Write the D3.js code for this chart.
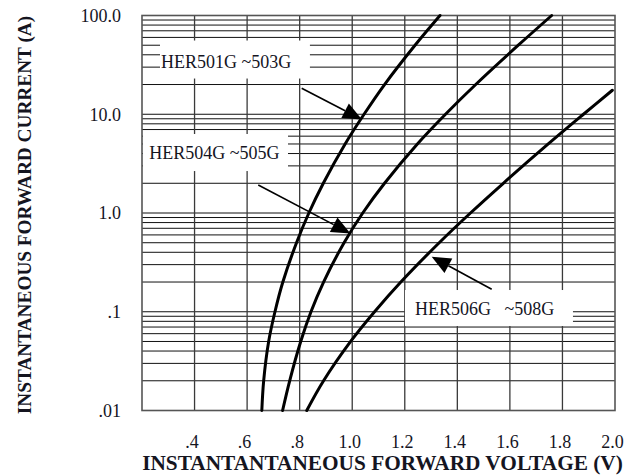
<!DOCTYPE html>
<html>
<head>
<meta charset="utf-8">
<script src="https://cdn.jsdelivr.net/npm/d3@7"></script>
<style>
  html, body { margin: 0; padding: 0; background: #fff; }
  svg { display: block; }
  text { font-family: "Liberation Serif", "Times New Roman", serif; fill: #15151f; }
</style>
</head>
<body>
<svg id="chart" width="635" height="475"></svg>
<script>
// Forward voltage vs forward current, HER501G ... HER508G families
const voltTicks = [0.4, 0.6, 0.8, 1.0, 1.2, 1.4, 1.6, 1.8, 2.0];
const voltTickLabels = [".4", ".6", ".8", "1.0", "1.2", "1.4", "1.6", "1.8", "2.0"];
const currentTicks = [0.01, 0.1, 1, 10, 100];
const currentTickLabels = [".01", ".1", "1.0", "10.0", "100.0"];

const seriesNames = ["HER501G ~503G", "HER504G ~505G", "HER506G\u00a0\u00a0 ~508G"];

const her501Amps  = [0.01, 0.02, 0.05, 0.1, 0.2, 0.5, 1, 2, 5, 10, 20, 50, 100];
const her501Volts = [0.656, 0.663, 0.682, 0.706, 0.736, 0.788, 0.835, 0.890, 0.973, 1.045, 1.123, 1.239, 1.334];

const her504Amps  = [0.01, 0.02, 0.05, 0.1, 0.2, 0.5, 1, 2, 5, 10, 20, 50, 100];
const her504Volts = [0.735, 0.762, 0.804, 0.843, 0.891, 0.969, 1.040, 1.123, 1.248, 1.355, 1.470, 1.632, 1.759];

const her506Amps  = [0.01, 0.02, 0.05, 0.1, 0.2, 0.5, 1, 2, 5, 10, 17.5];
const her506Volts = [0.827, 0.891, 0.994, 1.085, 1.185, 1.331, 1.450, 1.575, 1.746, 1.880, 1.990];

// Callout boxes (corner points in volts / amps) and text anchors
const boxCorners = [
  [[0.2685, 55.8], [0.839, 23.0]],
  [[0.2038, 6.31], [0.7556, 2.66]],
  [[1.2007, 0.166], [1.840, 0.0717]]
];
const boxTextAnchors = [[0.272, 33.8], [0.2278, 4.02], [1.2388, 0.1066]];
// Leader arrows: [from, to] in volts / amps
const arrowEnds = [
  [[0.8077, 18.3], [1.0371, 8.85]],
  [[0.6425, 1.92], [0.9934, 0.62]],
  [[1.5307, 0.169], [1.3024, 0.361]]
];

const svg = d3.select("#chart");
const plot = { left: 142, right: 615, top: 15.5, bottom: 410.5 };

const x = d3.scaleLinear().domain([0.2, 2.0]).range([plot.left, plot.right]);
const y = d3.scaleLog().domain([0.01, 100]).range([plot.bottom, plot.top]);

// Grid
const grid = svg.append("g");
grid.selectAll("line.h")
  .data(y.ticks().filter(v => v > 0.01 && v < 100))
  .join("line")
  .attr("x1", plot.left).attr("x2", plot.right)
  .attr("y1", d => y(d)).attr("y2", d => y(d))
  .attr("stroke", "#111").attr("stroke-width", 1);
grid.selectAll("line.v")
  .data(voltTicks.filter(v => v < 2.0))
  .join("line")
  .attr("x1", d => x(d)).attr("x2", d => x(d))
  .attr("y1", plot.top).attr("y2", plot.bottom)
  .attr("stroke", "#3a3a3a").attr("stroke-width", 1.3);

grid.append("rect")
  .attr("x", plot.left).attr("y", plot.top)
  .attr("width", plot.right - plot.left).attr("height", plot.bottom - plot.top)
  .attr("fill", "none").attr("stroke", "#555").attr("stroke-width", 1.6);

// Callout boxes
const boxes = svg.append("g");
boxCorners.forEach((c, i) => {
  const x0 = x(c[0][0]), x1 = x(c[1][0]);
  const y0 = y(c[0][1]), y1 = y(c[1][1]);
  boxes.append("rect")
    .attr("x", Math.min(x0, x1)).attr("y", Math.min(y0, y1))
    .attr("width", Math.abs(x1 - x0)).attr("height", Math.abs(y1 - y0))
    .attr("fill", "#fff");
  boxes.append("text")
    .attr("x", x(boxTextAnchors[i][0]))
    .attr("y", y(boxTextAnchors[i][1]))
    .attr("dy", "0.33em")
    .attr("font-size", 18)
    .text(seriesNames[i]);
});

// Curves
const line = d3.line()
  .x(d => x(d[0]))
  .y(d => y(d[1]))
  .curve(d3.curveCatmullRom.alpha(0.5));

const series = [
  d3.zip(her501Volts, her501Amps),
  d3.zip(her504Volts, her504Amps),
  d3.zip(her506Volts, her506Amps)
];
svg.append("g").selectAll("path")
  .data(series)
  .join("path")
  .attr("d", line)
  .attr("fill", "none")
  .attr("stroke", "#000")
  .attr("stroke-width", 3)
  .attr("stroke-linecap", "round");

// Leader arrows
const arrows = svg.append("g");
arrowEnds.forEach(([from, to]) => {
  const fx = x(from[0]), fy = y(from[1]);
  const tx = x(to[0]), ty = y(to[1]);
  const ang = Math.atan2(ty - fy, tx - fx);
  const len = 19, hw = 8.2;
  const bx = tx - len * Math.cos(ang), by = ty - len * Math.sin(ang);
  arrows.append("line")
    .attr("x1", fx).attr("y1", fy).attr("x2", bx).attr("y2", by)
    .attr("stroke", "#000").attr("stroke-width", 1.6);
  const px = -Math.sin(ang) * hw, py = Math.cos(ang) * hw;
  arrows.append("path")
    .attr("d", `M${tx},${ty}L${bx + px},${by + py}L${bx - px},${by - py}Z`)
    .attr("fill", "#000");
});

// Axes labels
const xAxis = d3.axisBottom(x)
  .tickValues(voltTicks)
  .tickSize(0)
  .tickFormat((d, i) => voltTickLabels[i]);
const gx = svg.append("g")
  .attr("transform", `translate(0,${plot.bottom})`)
  .call(xAxis);
gx.select(".domain").remove();
gx.selectAll("text")
  .attr("y", 37).attr("dy", 0).attr("dx", -3)
  .attr("font-size", 18)
  .attr("font-family", "Liberation Serif, serif")
  .attr("fill", "#15151f");

const yAxis = d3.axisLeft(y)
  .tickValues(currentTicks)
  .tickSize(0)
  .tickFormat((d, i) => currentTickLabels[i]);
const gy = svg.append("g")
  .attr("transform", `translate(${plot.left},0)`)
  .call(yAxis);
gy.select(".domain").remove();
gy.selectAll("text")
  .attr("x", -21).attr("dy", "0.33em")
  .attr("font-size", 18)
  .attr("font-family", "Liberation Serif, serif")
  .attr("fill", "#15151f");

svg.append("text")
  .attr("x", 382.5).attr("y", 470)
  .attr("text-anchor", "middle")
  .attr("font-size", 21.3)
  .attr("font-weight", "bold")
  .text("INSTANTANTANEOUS FORWARD VOLTAGE (V)");

svg.append("text")
  .attr("transform", "translate(31,215) rotate(-90)")
  .attr("text-anchor", "middle")
  .attr("font-size", 19.3)
  .attr("font-weight", "bold")
  .text("INSTANTANEOUS FORWARD CURRENT (A)");
</script>
</body>
</html>
